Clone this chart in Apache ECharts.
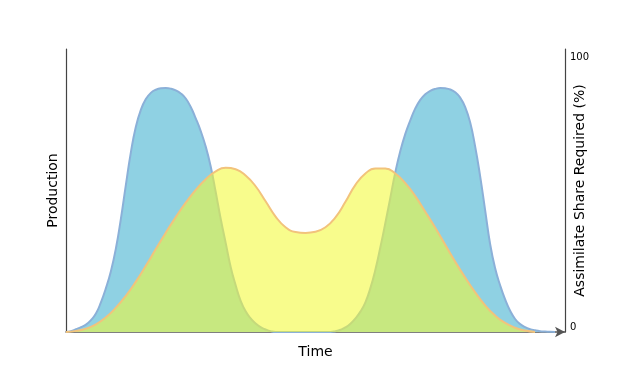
<!DOCTYPE html>
<html>
<head>
<meta charset="utf-8">
<script src="https://cdn.jsdelivr.net/npm/echarts@6/dist/echarts.min.js"></script>
<style>html,body{margin:0;padding:0;background:#fff}#c{width:626px;height:378px}</style>
</head>
<body>
<div id="c"></div>
<script>
// Production (blue) curve: time positions and values
const productionX = [0, 1, 2, 3, 4, 5, 6, 7, 8, 9, 10, 11, 12, 13, 14, 15, 16, 17, 18, 19, 20, 21, 22, 23, 24, 25, 26, 27, 28, 29, 30, 31, 32, 33, 34, 35, 36, 37, 38, 39, 40, 41, 42, 47, 52, 53, 54, 55, 56, 57, 58, 59, 60, 61, 62, 63, 64, 65, 66, 67, 68, 69, 70, 71, 72, 73, 74, 75, 76, 77, 78, 79, 80, 81, 82, 83, 84, 85, 86, 87, 88, 89, 90, 91, 92, 93, 94, 95, 96, 97, 98];
const productionY = [0, 0.3, 1.0, 1.7, 2.6, 4.2, 6.5, 10.5, 15.5, 21.5, 29.5, 40, 52, 63.5, 72.5, 78.5, 82.3, 84.5, 85.6, 86.1, 86.2, 86, 85.4, 84.3, 82.5, 79.5, 75.5, 71, 65.5, 58.5, 49.5, 40, 31.5, 23, 16.5, 11, 7.3, 4.8, 3.0, 1.7, 0.9, 0.3, 0, 0, 0, 0, 0.3, 0.8, 1.6, 2.9, 4.8, 7.2, 10.5, 15.5, 22, 30, 38.5, 47.5, 56.5, 64, 70, 74.8, 79, 82, 84, 85.2, 85.9, 86.2, 86.1, 85.7, 84.7, 82.8, 79.5, 74, 65.5, 55, 43, 31, 22.5, 16.5, 11.5, 7.5, 4.6, 2.8, 1.7, 1.0, 0.6, 0.3, 0.15, 0.05, 0];
// Assimilate share (yellow) curve
const shareX = [0, 2, 4, 6, 8, 10, 12, 14, 16, 18, 20, 22, 24, 26, 28, 30, 32, 34, 36, 38, 40, 42, 44, 46, 48, 50, 52, 54, 56, 58, 60, 62, 64, 66, 68, 70, 72, 74, 76, 78, 80, 82, 84, 86, 88, 90, 92, 94];
const shareY = [0, 0.4, 1.2, 2.7, 5.2, 8.6, 12.8, 17.8, 23.4, 29.3, 35.1, 40.6, 45.7, 50.2, 54, 56.8, 58, 57.5, 55.3, 51.5, 46.2, 40.8, 37, 35.3, 35, 35.4, 37, 40.5, 46, 52, 56, 57.8, 57.8, 56, 52.6, 48, 42.5, 36.8, 30.8, 24.8, 19.2, 14, 9.4, 5.8, 3.2, 1.5, 0.5, 0];
const rightTicks = [0, 100];

const zip = (xs, ys) => xs.map((x, i) => [x, ys[i]]);
const chart = echarts.init(document.getElementById('c'), null, {renderer: 'canvas'});
const nameFont = {color: '#000', fontSize: 14, fontFamily: 'DejaVu Sans'};
chart.setOption({
  animation: false,
  grid: {left: 66, right: 61, top: 49, bottom: 46},
  xAxis: {
    type: 'value', min: 0, max: 100,
    name: 'Time', nameLocation: 'middle', nameGap: 13, nameMoveOverlap: false,
    nameTextStyle: nameFont,
    axisLine: {show: true, lineStyle: {color: '#555', width: 1.5}, symbol: ['none', 'arrow'], symbolSize: [8, 10], symbolOffset: [0, 0]},
    axisTick: {show: false}, axisLabel: {show: false}, splitLine: {show: false}
  },
  yAxis: [{
    type: 'value', min: 0, max: 100, position: 'left',
    name: 'Production', nameLocation: 'middle', nameGap: 6, nameMoveOverlap: false,
    nameTextStyle: nameFont,
    axisLine: {show: true, lineStyle: {color: '#444', width: 1.2}},
    axisTick: {show: false}, axisLabel: {show: false}, splitLine: {show: false}
  }, {
    type: 'value', min: 0, max: 100, interval: 100, position: 'right',
    name: 'Assimilate Share Required (%)', nameLocation: 'middle', nameGap: 8, nameMoveOverlap: false,
    nameTextStyle: nameFont,
    axisLine: {show: true, lineStyle: {color: '#444', width: 1.2}},
    axisTick: {show: false}, splitLine: {show: false},
    axisLabel: {
      show: true, margin: 5, color: '#000', fontSize: 10, fontFamily: 'DejaVu Sans',
      formatter: v => (v === rightTicks[1] ? '{t|' + v + '}' : '{b|' + v + '}'),
      rich: {
        t: {padding: [16, 0, 0, 0], fontSize: 10, color: '#000', fontFamily: 'DejaVu Sans'},
        b: {padding: [0, 0, 10, 0], fontSize: 10, color: '#000', fontFamily: 'DejaVu Sans'}
      }
    }
  }],
  series: [{
    type: 'line', smooth: 0.5, symbol: 'none', yAxisIndex: 0,
    data: zip(productionX, productionY),
    lineStyle: {color: '#8bb0d8', width: 2},
    areaStyle: {color: '#8fd1e3', opacity: 1},
    z: 2
  }, {
    type: 'line', smooth: 0.5, symbol: 'none', yAxisIndex: 0,
    data: zip(shareX, shareY),
    lineStyle: {color: '#f2c37c', width: 2},
    areaStyle: {color: 'rgb(242,250,50)', opacity: 0.56},
    z: 3
  }]
});
</script>
</body>
</html>
